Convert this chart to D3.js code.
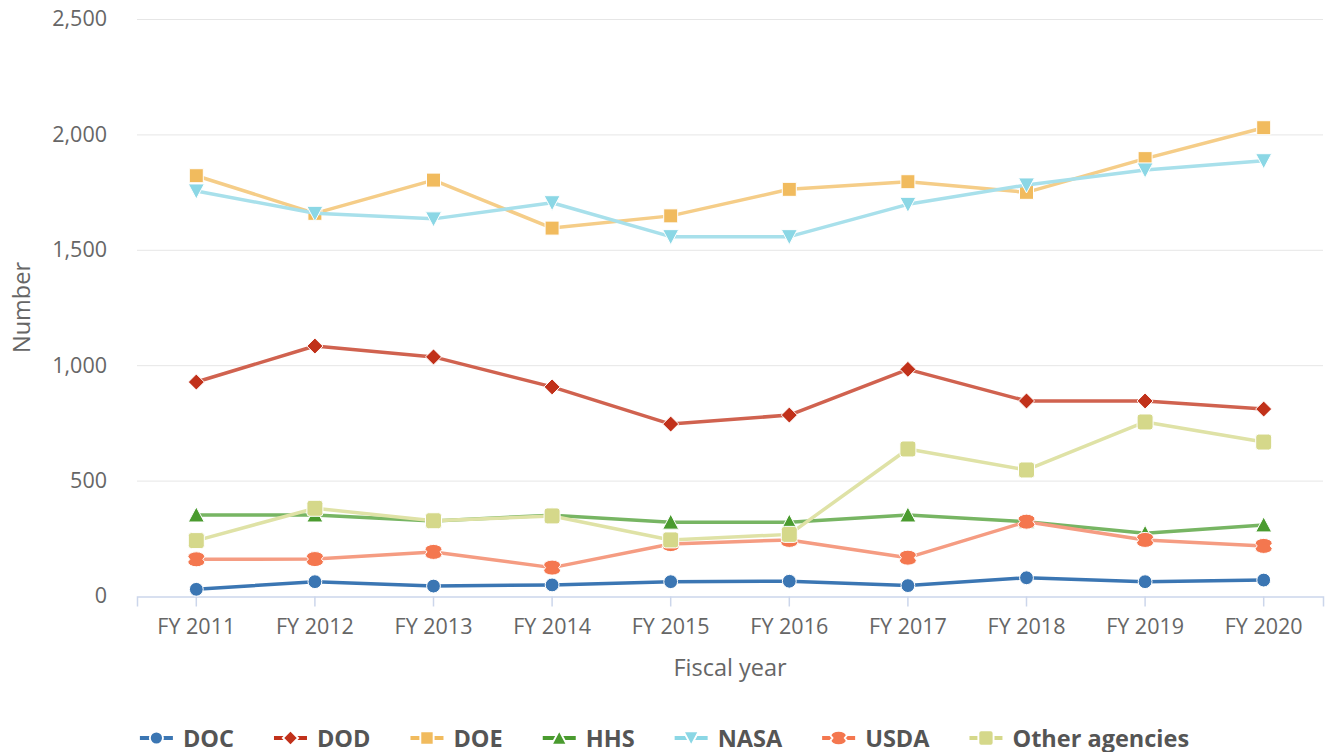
<!DOCTYPE html>
<html>
<head>
<meta charset="utf-8">
<script src="https://cdn.jsdelivr.net/npm/d3@7"></script>
<style>
  body { margin: 0; background: #fff; }
  svg { font-family: "Open Sans", "Noto Sans", sans-serif; }
</style>
</head>
<body>
<svg id="chart" width="1329" height="752"></svg>
<script>
const years = ["FY 2011","FY 2012","FY 2013","FY 2014","FY 2015","FY 2016","FY 2017","FY 2018","FY 2019","FY 2020"];
const yTicks = [0, 500, 1000, 1500, 2000, 2500];

const doc  = [29, 62, 43, 48, 62, 64, 45, 79, 62, 69];
const dod  = [927, 1083, 1036, 906, 745, 784, 982, 845, 845, 810];
const doe  = [1821, 1658, 1802, 1594, 1647, 1762, 1795, 1749, 1895, 2029];
const hhs  = [351, 351, 325, 350, 320, 320, 351, 322, 272, 308];
const nasa = [1755, 1658, 1634, 1704, 1557, 1557, 1697, 1781, 1846, 1886];
const usda = [159, 160, 191, 123, 225, 243, 166, 322, 243, 217];
const other = [240, 380, 326, 347, 243, 267, 637, 546, 754, 667];

const series = [
  { name: "DOC", values: doc, color: "#3b76b3", line: "#3b76b3", symbol: "circle" },
  { name: "DOD", values: dod, color: "#c1311a", line: "#d0624f", symbol: "diamond" },
  { name: "DOE", values: doe, color: "#f1bb5e", line: "#f5cd88", symbol: "square" },
  { name: "HHS", values: hhs, color: "#4a9b2f", line: "#77b563", symbol: "triangle" },
  { name: "NASA", values: nasa, color: "#8bd7e5", line: "#a8e0eb", symbol: "triangle-down" },
  { name: "USDA", values: usda, color: "#f4774f", line: "#f59c82", symbol: "bowtie" },
  { name: "Other agencies", values: other, color: "#d5d88a", line: "#dfe2a6", symbol: "rsquare" }
];

const svg = d3.select("#chart");
const plotLeft = 137, plotRight = 1323, plotTop = 19, plotBottom = 596;

const x = d3.scaleBand().domain(years).range([plotLeft, plotRight]);
const xc = d => x(d) + x.bandwidth() / 2;
const y = d3.scaleLinear().domain([0, 2500]).range([plotBottom, plotTop]);

// gridlines
svg.append("g")
  .selectAll("line")
  .data(yTicks.filter(t => t > 0))
  .join("line")
  .attr("x1", plotLeft).attr("x2", plotRight)
  .attr("y1", d => y(d) + 0.5).attr("y2", d => y(d) + 0.5)
  .attr("stroke", "#e6e6e6").attr("stroke-width", 1);

// y axis labels
const yAxis = svg.append("g")
  .attr("transform", `translate(${plotLeft},0)`)
  .call(d3.axisLeft(y).tickValues(yTicks).tickFormat(d3.format(",")).tickSize(0).tickPadding(30));
yAxis.select(".domain").remove();
yAxis.selectAll("text").attr("font-size", 21.5).attr("fill", "#666").attr("font-family", "Open Sans");

// x axis
const xAxis = svg.append("g")
  .attr("transform", `translate(0,${plotBottom + 0.5})`)
  .call(d3.axisBottom(x).tickSizeOuter(0).tickSize(10).tickPadding(12));
xAxis.select(".domain").attr("stroke", "#ccd6eb").attr("stroke-width", 1.5);
xAxis.selectAll(".tick line").attr("stroke", "#ccd6eb").attr("stroke-width", 1.5);
xAxis.selectAll("text").attr("font-size", 21.5).attr("fill", "#666").attr("font-family", "Open Sans");

// axis titles
svg.append("text")
  .attr("transform", `translate(30,${(plotTop + plotBottom) / 2}) rotate(-90)`)
  .attr("text-anchor", "middle")
  .attr("font-size", 23.5).attr("fill", "#666")
  .text("Number");

svg.append("text")
  .attr("x", (plotLeft + plotRight) / 2).attr("y", 676)
  .attr("text-anchor", "middle")
  .attr("font-size", 23.5).attr("fill", "#666")
  .text("Fiscal year");

function symbolPath(type) {
  switch (type) {
    case "circle": return d3.symbol(d3.symbolCircle, 150)();
    case "diamond": return "M0,-8L8,0L0,8L-8,0Z";
    case "square": return "M-7,-7H7V7H-7Z";
    case "triangle": return "M0,-8L8,7H-8Z";
    case "triangle-down": return "M-8,-7H8L0,8Z";
    case "rsquare": return "M-5,-8H5Q8,-8 8,-5V5Q8,8 5,8H-5Q-8,8 -8,5V-5Q-8,-8 -5,-8Z";
    case "bowtie": return "M-8.5,-2.5A8.5,5 0 0 1 8.5,-2.5L6.5,0L8.5,2.5A8.5,5 0 0 1 -8.5,2.5L-6.5,0Z";
  }
}

const line = d3.line().x((d, i) => xc(years[i])).y(d => y(d));

const gSeries = svg.append("g");
series.forEach(s => {
  const g = gSeries.append("g");
  g.append("path")
    .datum(s.values)
    .attr("fill", "none")
    .attr("stroke", s.line)
    .attr("stroke-width", 3.5)
    .attr("stroke-linejoin", "round")
    .attr("d", line);
  g.selectAll("path.m")
    .data(s.values)
    .join("path")
    .attr("class", "m")
    .attr("transform", (d, i) => `translate(${xc(years[i])},${y(d)})`)
    .attr("d", symbolPath(s.symbol))
    .attr("fill", s.color)
    .attr("stroke", "#fff")
    .attr("stroke-width", 1);
});

// legend
const legend = svg.append("g");
let lx = 0;
series.forEach(s => {
  const it = legend.append("g").attr("transform", `translate(${lx},0)`);
  it.append("line")
    .attr("x1", 0).attr("x2", 33).attr("y1", 0).attr("y2", 0)
    .attr("stroke", s.color).attr("stroke-width", 4);
  it.append("path")
    .attr("transform", "translate(16.5,0) scale(0.95)")
    .attr("d", symbolPath(s.symbol))
    .attr("fill", s.color).attr("stroke", "#fff").attr("stroke-width", 2);
  const t = it.append("text")
    .attr("x", 43).attr("y", 8.5)
    .attr("font-size", 23.5).attr("font-weight", "bold").attr("fill", "#555")
    .text(s.name);
  const w = 43 + t.node().getComputedTextLength();
  lx += w + 40;
});
const totalW = lx - 40;
legend.attr("transform", `translate(${(1329 - totalW) / 2},738)`);
</script>
</body>
</html>
